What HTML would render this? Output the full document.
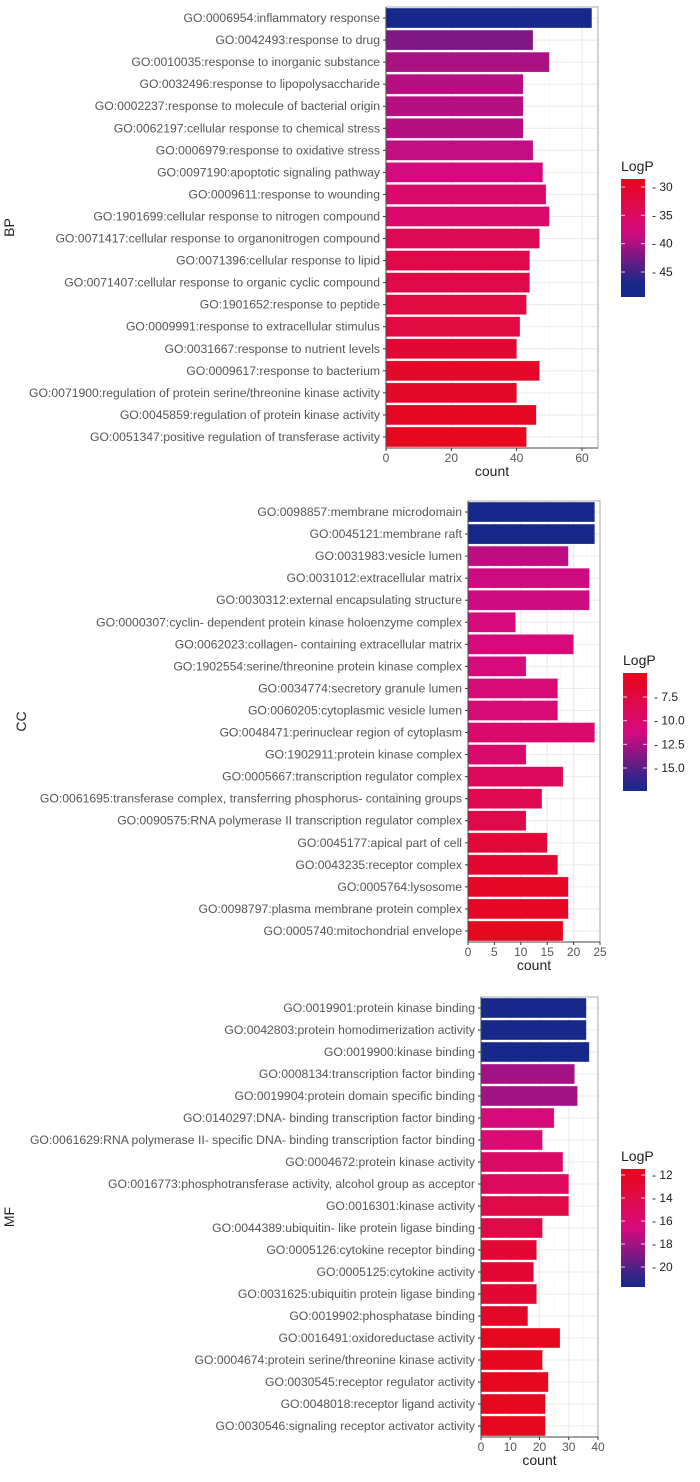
<!DOCTYPE html>
<html><head><meta charset="utf-8"><style>
body{margin:0;background:#fff;}
svg{display:block;font-family:"Liberation Sans",sans-serif;}
</style></head><body>
<svg id="chart" width="700" height="1482" viewBox="0 0 700 1482"></svg>
<script>
const bpTerms=["GO:0006954:inflammatory response","GO:0042493:response to drug","GO:0010035:response to inorganic substance","GO:0032496:response to lipopolysaccharide","GO:0002237:response to molecule of bacterial origin","GO:0062197:cellular response to chemical stress","GO:0006979:response to oxidative stress","GO:0097190:apoptotic signaling pathway","GO:0009611:response to wounding","GO:1901699:cellular response to nitrogen compound","GO:0071417:cellular response to organonitrogen compound","GO:0071396:cellular response to lipid","GO:0071407:cellular response to organic cyclic compound","GO:1901652:response to peptide","GO:0009991:response to extracellular stimulus","GO:0031667:response to nutrient levels","GO:0009617:response to bacterium","GO:0071900:regulation of protein serine/threonine kinase activity","GO:0045859:regulation of protein kinase activity","GO:0051347:positive regulation of transferase activity"];
const bpCounts=[63,45,50,42,42,42,45,48,49,50,47,44,44,43,41,40,47,40,46,43];
const bpLogP=[-47,-42,-40,-39.5,-39.5,-39.5,-39,-38,-36,-36,-34,-33,-33,-32,-32,-31,-30,-30,-29.5,-29];
const bpXTicks=[0,20,40,60];
const bpLegendTicks=[-30,-35,-40,-45];

const ccTerms=["GO:0098857:membrane microdomain","GO:0045121:membrane raft","GO:0031983:vesicle lumen","GO:0031012:extracellular matrix","GO:0030312:external encapsulating structure","GO:0000307:cyclin- dependent protein kinase holoenzyme complex","GO:0062023:collagen- containing extracellular matrix","GO:1902554:serine/threonine protein kinase complex","GO:0034774:secretory granule lumen","GO:0060205:cytoplasmic vesicle lumen","GO:0048471:perinuclear region of cytoplasm","GO:1902911:protein kinase complex","GO:0005667:transcription regulator complex","GO:0061695:transferase complex, transferring phosphorus- containing groups","GO:0090575:RNA polymerase II transcription regulator complex","GO:0045177:apical part of cell","GO:0043235:receptor complex","GO:0005764:lysosome","GO:0098797:plasma membrane protein complex","GO:0005740:mitochondrial envelope"];
const ccCounts=[24,24,19,23,23,9,20,11,17,17,24,11,18,14,11,15,17,19,19,18];
const ccLogP=[-17,-17,-12,-11.5,-11.5,-11,-11,-11,-10.5,-10.5,-10,-10,-9,-8.5,-8,-7,-6.5,-6,-6,-5.5];
const ccXTicks=[0,5,10,15,20,25];
const ccLegendTicks=[-7.5,-10.0,-12.5,-15.0];

const mfTerms=["GO:0019901:protein kinase binding","GO:0042803:protein homodimerization activity","GO:0019900:kinase binding","GO:0008134:transcription factor binding","GO:0019904:protein domain specific binding","GO:0140297:DNA- binding transcription factor binding","GO:0061629:RNA polymerase II- specific DNA- binding transcription factor binding","GO:0004672:protein kinase activity","GO:0016773:phosphotransferase activity, alcohol group as acceptor","GO:0016301:kinase activity","GO:0044389:ubiquitin- like protein ligase binding","GO:0005126:cytokine receptor binding","GO:0005125:cytokine activity","GO:0031625:ubiquitin protein ligase binding","GO:0019902:phosphatase binding","GO:0016491:oxidoreductase activity","GO:0004674:protein serine/threonine kinase activity","GO:0030545:receptor regulator activity","GO:0048018:receptor ligand activity","GO:0030546:signaling receptor activator activity"];
const mfCounts=[36,36,37,32,33,25,21,28,30,30,21,19,18,19,16,27,21,23,22,22];
const mfLogP=[-21.5,-21.5,-21.5,-18,-18,-16.5,-16,-15.5,-15,-14,-14,-13,-13,-13,-12.5,-12,-12,-12,-12,-12];
const mfXTicks=[0,10,20,30,40];
const mfLegendTicks=[12,14,16,18,20];

const NS="http://www.w3.org/2000/svg";
const svg=document.getElementById('chart');
function mk(tag,attrs,parent){const e=document.createElementNS(NS,tag);for(const k in attrs)e.setAttribute(k,attrs[k]);(parent||svg).appendChild(e);return e;}
const RED=[230,8,30],MAG=[214,10,128],BLUE=[22,40,138];
function mix(a,b,t){return 'rgb('+a.map((v,i)=>Math.round(v+(b[i]-v)*t)).join(',')+')';}
function colorFor(v,lo,hi){const t=(hi-v)/(hi-lo);if(t<=0.5)return mix(RED,MAG,Math.max(0,t*2));return mix(MAG,BLUE,Math.min(1,(t-0.5)*2));}

function panel(o){
  const g=mk('g',{});
  
  
  const xs=v=>o.x0+(v-o.xmin)*(o.x1-o.x0)/(o.xmax-o.xmin);
  const n=o.terms.length, band=(o.bottom-o.top)/n;
  const bg=mk('rect',{x:o.x0,y:o.top,width:o.right-o.x0,height:o.bottom-o.top,fill:'#fff'},g);
  
  for(let i=0;i<o.xticks.length;i++){
    const t=o.xticks[i];
    const gl=mk('line',{x1:xs(t),x2:xs(t),y1:o.top,y2:o.bottom,stroke:'#ebebeb','stroke-width':1.1},g);
    
    if(i<o.xticks.length-1){const m=(t+o.xticks[i+1])/2;mk('line',{x1:xs(m),x2:xs(m),y1:o.top,y2:o.bottom,stroke:'#f5f5f5','stroke-width':0.6},g);}
  }
  for(let i=0;i<n;i++){const cy=o.top+band*(i+0.5);mk('line',{x1:o.x0,x2:o.right,y1:cy,y2:cy,stroke:'#ebebeb','stroke-width':1.1},g);}
  for(let i=0;i<n;i++){
    const y=o.top+band*i+band*0.05;
    const r=mk('rect',{x:xs(0),y:y,width:xs(o.counts[i])-xs(0),height:band*0.9,fill:colorFor(o.logp[i],o.lmin,o.lmax),stroke:'#fff','stroke-opacity':0.35,'stroke-width':0.5},g);
    
    
    const lbl=mk('text',{x:o.x0-6,y:y+band*0.45+4,'text-anchor':'end','font-size':12.2,fill:'#555'},g);
    lbl.textContent=o.terms[i];
    
    
    mk('line',{x1:o.x0-3,x2:o.x0,y1:o.top+band*(i+0.5),y2:o.top+band*(i+0.5),stroke:'#333'},g);
  }
  mk('rect',{x:o.x0,y:o.top,width:o.right-o.x0,height:o.bottom-o.top,fill:'none',stroke:'#aaa','stroke-width':1},g);
  mk('line',{x1:o.x0,x2:o.x0,y1:o.top,y2:o.bottom,stroke:'#444','stroke-width':1},g);
  mk('line',{x1:o.x0,x2:o.right,y1:o.bottom,y2:o.bottom,stroke:'#444','stroke-width':1},g);
  for(const t of o.xticks){
    mk('line',{x1:xs(t),x2:xs(t),y1:o.bottom,y2:o.bottom+3,stroke:'#333'},g);
    const tl=mk('text',{x:xs(t),y:o.bottom+14,'text-anchor':'middle','font-size':12,fill:'#555'},g);
    tl.textContent=t;
    
    
  }
  const xt=mk('text',{x:(o.x0+o.right)/2,y:o.bottom+28,'text-anchor':'middle','font-size':14,fill:'#222'},g);
  xt.textContent='count';
  
  
  const yt=mk('text',{x:o.ytx,y:(o.top+o.bottom)/2,'text-anchor':'middle','font-size':14,fill:'#222',transform:'rotate(-90 '+o.ytx+' '+(o.top+o.bottom)/2+')'},g);
  yt.textContent=o.key.toUpperCase();
  
  
  const L=o.leg, ly=v=>L.y0+(v-L.t0)*(L.y1-L.y0)/(L.t1-L.t0);
  const id='grad'+o.key;
  const defs=mk('defs',{},g);
  const lg=mk('linearGradient',{id:id,x1:0,y1:0,x2:0,y2:1},defs);
  for(let k=0;k<=10;k++){const yy=L.top+(L.bot-L.top)*k/10;
    const v=L.t0+(yy-L.y0)*(L.t1-L.t0)/(L.y1-L.y0);
    mk('stop',{offset:k/10,'stop-color':colorFor(v,o.lmin,o.lmax)},lg);}
  const lt=mk('text',{x:L.x,y:L.top-8,'font-size':14,fill:'#222'},g);
  lt.textContent='LogP';
  
  
  const cb=mk('rect',{x:L.x,y:L.top,width:24,height:L.bot-L.top,fill:'url(#'+id+')'},g);
  
  
  for(const t of L.ticks){
    const yy=ly(Math.abs(t)*Math.sign(L.t0));
    mk('line',{x1:L.x,x2:L.x+4,y1:yy,y2:yy,stroke:'#fff','stroke-opacity':0.8},g);
    mk('line',{x1:L.x+20,x2:L.x+24,y1:yy,y2:yy,stroke:'#fff','stroke-opacity':0.8},g);
    const tl=mk('text',{x:L.x+31,y:yy+4,'font-size':12,fill:'#222'},g);
    tl.textContent='- '+Math.abs(t).toFixed(L.dec);
    
    
  }
}
panel({key:'bp',terms:bpTerms,counts:bpCounts,logp:bpLogP,xticks:bpXTicks,xmin:0,xmax:60,x0:386,x1:582,right:598,top:7,bottom:448,ytx:14,lmin:-47,lmax:-29,
  leg:{x:621,top:179,bot:297,t0:-30,t1:-45,y0:187,y1:272,ticks:bpLegendTicks,dec:0}});
panel({key:'cc',terms:ccTerms,counts:ccCounts,logp:ccLogP,xticks:ccXTicks,xmin:0,xmax:25,x0:468,x1:600,right:600,top:501,bottom:942,ytx:26,lmin:-17,lmax:-5.5,
  leg:{x:623,top:673,bot:791,t0:-7.5,t1:-15,y0:697,y1:768,ticks:ccLegendTicks,dec:1}});
panel({key:'mf',terms:mfTerms,counts:mfCounts,logp:mfLogP,xticks:mfXTicks,xmin:0,xmax:40,x0:481,x1:598,right:598,top:997,bottom:1437,ytx:14,lmin:-21.5,lmax:-12,
  leg:{x:621,top:1169,bot:1287,t0:-12,t1:-20,y0:1175,y1:1267,ticks:mfLegendTicks,dec:0}});
</script>
</body></html>
